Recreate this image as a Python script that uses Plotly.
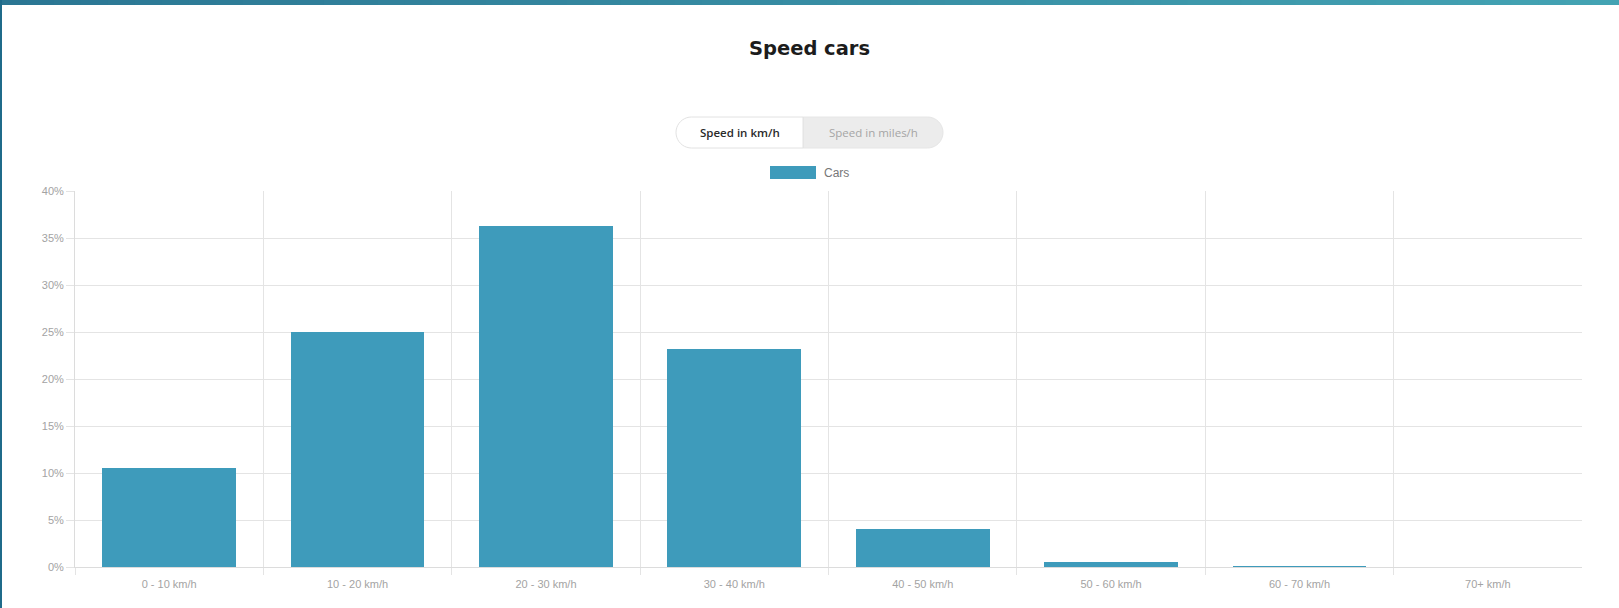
import math
import plotly.graph_objects as go

# ---- data ----
categories = ["0 - 10 km/h", "10 - 20 km/h", "20 - 30 km/h", "30 - 40 km/h",
              "40 - 50 km/h", "50 - 60 km/h", "60 - 70 km/h", "70+ km/h"]
cars_pct = [10.5, 25.0, 36.3, 23.2, 4.05, 0.55, 0.1, 0.0]
y_ticks = [0, 5, 10, 15, 20, 25, 30, 35, 40]
y_tick_text = [f"{v}%" for v in y_ticks]
series_name = "Cars"
title_text = "Speed cars"
toggle_labels = ["Speed in km/h", "Speed in miles/h"]

# ---- layout geometry (pixels) ----
W, H = 1619, 608
ML, MR, MT, MB = 75, 37, 191, 41
PW = W - ML - MR
PH = H - MT - MB

def px(x):
    return (x - ML) / PW

def py(y):
    return (H - MB - y) / PH

BAR = "#3e9bbb"
GRID = "#e4e4e4"
TICKFONT = dict(family="Liberation Sans, Arial, sans-serif", size=11, color="#a3a3a3")

n = len(categories)
xpos = list(range(n))
boundaries = [i + 0.5 for i in range(-1, n - 1)]

fig = go.Figure()
# invisible helper trace so the boundary-grid axis is active
fig.add_trace(go.Scatter(x=[-0.5, n - 0.5], y=[0, 0], mode="markers",
                         marker=dict(opacity=0), showlegend=False, hoverinfo="skip",
                         xaxis="x", yaxis="y"))
fig.add_trace(go.Bar(
    x=xpos, y=cars_pct, name=series_name, width=0.71,
    marker=dict(color=BAR, line=dict(width=0)),
    showlegend=False, xaxis="x2", yaxis="y",
))

shapes = []
# top gradient bar
steps = 60
c0 = (0x2b, 0x76, 0x93)
c1 = (0x43, 0xa3, 0xb3)
for i in range(steps):
    t = i / (steps - 1)
    c = tuple(int(round(c0[k] + (c1[k] - c0[k]) * t)) for k in range(3))
    shapes.append(dict(type="rect", xref="paper", yref="paper",
                       x0=px(W * i / steps), x1=px(W * (i + 1) / steps + 1),
                       y0=py(5), y1=py(0), line=dict(width=0),
                       fillcolor="rgb(%d,%d,%d)" % c, layer="above"))
# left edge strip
shapes.append(dict(type="rect", xref="paper", yref="paper",
                   x0=px(0), x1=px(2), y0=py(H), y1=py(0), line=dict(width=0),
                   fillcolor="#1f6b8a", layer="above"))

# toggle pill
x0, xm, x1 = 676, 803, 943
y0, y1 = 117, 148
r = (y1 - y0) / 2

def pill_path(a, b, left_round, right_round):
    X, Y = px, py
    p = f"M{X(a + r) if left_round else X(a)},{Y(y0)} "
    if right_round:
        p += f"L{X(b - r)},{Y(y0)} "
        for k in range(1, 21):
            ang = -math.pi / 2 + math.pi * k / 20
            p += f"L{X(b - r + r * math.cos(ang))},{Y(y0 + r + r * math.sin(ang))} "
    else:
        p += f"L{X(b)},{Y(y0)} L{X(b)},{Y(y1)} "
    if left_round:
        p += f"L{X(a + r)},{Y(y1)} "
        for k in range(1, 21):
            ang = math.pi / 2 + math.pi * k / 20
            p += f"L{X(a + r + r * math.cos(ang))},{Y(y0 + r + r * math.sin(ang))} "
    else:
        p += f"L{X(a)},{Y(y1)} "
    return p + "Z"

shapes.append(dict(type="path", xref="paper", yref="paper",
                   path=pill_path(xm, x1, False, True),
                   fillcolor="#ececec", line=dict(color="#e6e6e6", width=1), layer="above"))
shapes.append(dict(type="path", xref="paper", yref="paper",
                   path=pill_path(x0, xm, True, False),
                   fillcolor="#ffffff", line=dict(color="#e2e2e2", width=1), layer="above"))

# legend swatch
shapes.append(dict(type="rect", xref="paper", yref="paper",
                   x0=px(770), x1=px(816), y0=py(179), y1=py(166),
                   fillcolor=BAR, line=dict(width=0), layer="above"))

annotations = [
    dict(text=toggle_labels[0], xref="paper", yref="paper", x=px(740), y=py(132.5),
         showarrow=False, font=dict(family="Open Sans, sans-serif", size=11.5, color="#2a2a2a", weight=600),
         xanchor="center", yanchor="middle"),
    dict(text=toggle_labels[1], xref="paper", yref="paper", x=px(873), y=py(132.5),
         showarrow=False, font=dict(family="Open Sans, sans-serif", size=11.5, color="#a5a5a5"),
         xanchor="center", yanchor="middle"),
    dict(text=series_name, xref="paper", yref="paper", x=px(822), y=py(172.5),
         showarrow=False, font=dict(family="Liberation Sans, Arial, sans-serif", size=12, color="#777777"),
         xanchor="left", yanchor="middle"),
]

fig.update_layout(
    width=W, height=H,
    margin=dict(l=ML, r=MR, t=MT, b=MB, pad=0),
    paper_bgcolor="white", plot_bgcolor="white",
    title=dict(text=title_text, x=0.5, xref="container", xanchor="center",
               y=1 - 48 / H, yref="container", yanchor="middle",
               font=dict(family="DejaVu Sans, sans-serif", size=19.5, color="#1c1c1c", weight="bold")),
    xaxis=dict(type="linear", range=[-0.5, n - 0.5], tickvals=boundaries, showticklabels=False,
               showgrid=True, gridcolor=GRID, gridwidth=1, zeroline=False,
               ticks="outside", ticklen=7, tickcolor=GRID, tickwidth=1,
               showline=True, linecolor="#dcdcdc", linewidth=1, fixedrange=True),
    xaxis2=dict(type="linear", range=[-0.5, n - 0.5], overlaying="x", anchor="y", side="bottom",
                tickvals=xpos, ticktext=categories, showgrid=False, zeroline=False,
                ticks="outside", ticklen=7, tickcolor="rgba(0,0,0,0)",
                tickfont=TICKFONT, showline=False, fixedrange=True),
    yaxis=dict(range=[0, 40], tickvals=y_ticks, ticktext=y_tick_text,
               showgrid=True, gridcolor=GRID, gridwidth=1, zeroline=False,
               ticks="outside", ticklen=8, tickcolor=GRID, tickwidth=1,
               showline=True, linecolor="#dcdcdc", linewidth=1,
               tickfont=TICKFONT, fixedrange=True),
    shapes=shapes,
    annotations=annotations,
    bargap=0,
)

fig.write_html("out.html",
               config={"displayModeBar": False},
               post_script="document.body.style.margin='0';document.body.style.overflow='hidden';")
